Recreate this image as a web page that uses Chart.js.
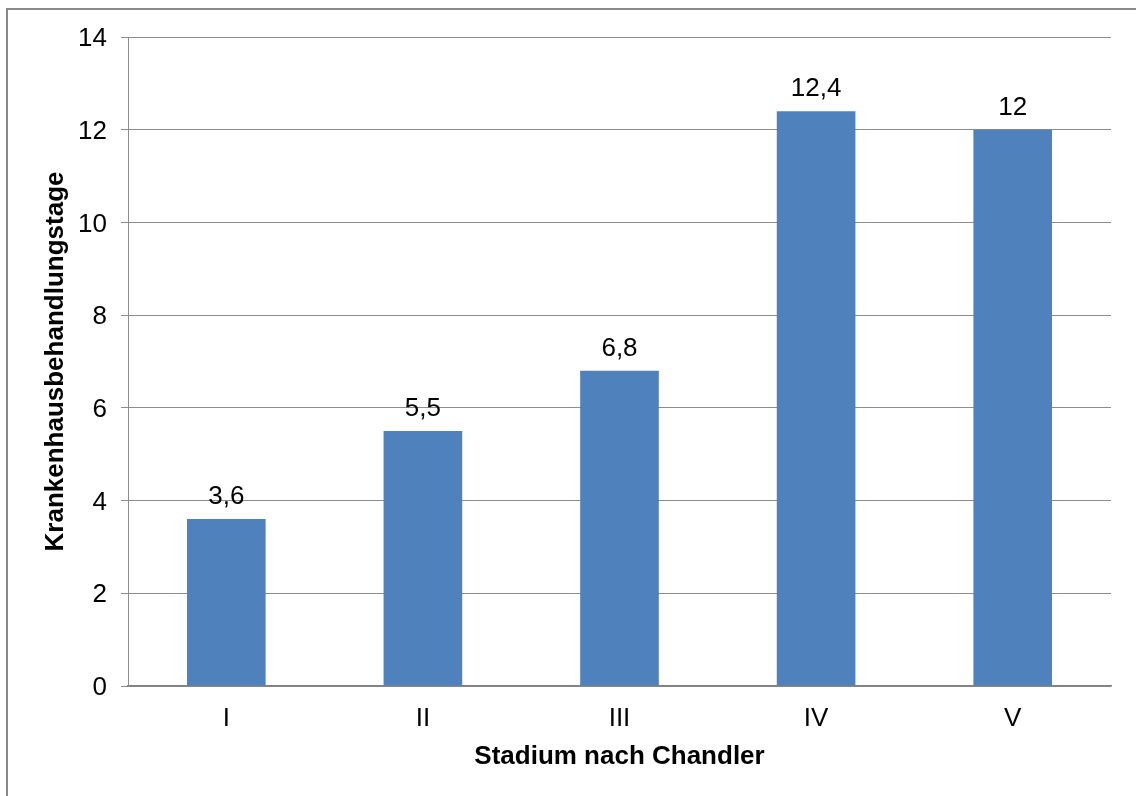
<!DOCTYPE html>
<html>
<head>
<meta charset="utf-8">
<script src="https://cdn.jsdelivr.net/npm/chart.js@4/dist/chart.umd.min.js"></script>
<style>
  html, body { margin: 0; padding: 0; background: #fff; overflow: hidden; }
  #frame {
    position: absolute; left: 6px; top: 8px;
    width: 1200px; height: 900px;
    border: 2px solid #8a8a8a; box-sizing: border-box;
  }
  #wrap { position: absolute; left: 0; top: 0; width: 1136px; height: 796px; }
</style>
</head>
<body>
<div id="frame"></div>
<div id="wrap"><canvas id="chart" width="1136" height="796"></canvas></div>
<script>
// Hospital stay length per Chandler stage
const stages = ['I', 'II', 'III', 'IV', 'V'];
const days = [3.6, 5.5, 6.8, 12.4, 12];
const yTicks = [0, 2, 4, 6, 8, 10, 12, 14];

const FONT = 'Liberation Sans, Arial, sans-serif';
const GRID = '#8c8c8c';

// Writes each bar's value above it, with a decimal comma
const valueLabels = {
  id: 'valueLabels',
  afterDatasetsDraw(chart) {
    const ctx = chart.ctx;
    const meta = chart.getDatasetMeta(0);
    ctx.save();
    ctx.font = '26px ' + FONT;
    ctx.fillStyle = '#000';
    ctx.textAlign = 'center';
    ctx.textBaseline = 'alphabetic';
    meta.data.forEach((bar, i) => {
      const txt = String(days[i]).replace('.', ',');
      ctx.fillText(txt, bar.x, bar.y - 15);
    });
    ctx.restore();
  }
};

new Chart(document.getElementById('chart'), {
  type: 'bar',
  data: {
    labels: stages,
    datasets: [{
      data: days,
      backgroundColor: '#4F81BD',
      borderWidth: 0,
      categoryPercentage: 0.4,
      barPercentage: 1
    }]
  },
  options: {
    responsive: false,
    animation: false,
    layout: { padding: { top: 37, right: 25, left: 0, bottom: 0 } },
    plugins: {
      legend: { display: false },
      tooltip: { enabled: false }
    },
    scales: {
      x: {
        afterFit(scale) { scale.height = 110; },
        grid: { display: false, drawTicks: false },
        border: { display: true, color: '#808080', width: 1.5 },
        ticks: {
          color: '#000',
          font: { family: FONT, size: 26 },
          padding: 17
        },
        title: {
          display: true,
          text: 'Stadium nach Chandler',
          color: '#000',
          font: { family: FONT, size: 26, weight: 'bold' },
          padding: { top: 0, bottom: 24 }
        }
      },
      y: {
        min: 0,
        max: 14,
        afterFit(scale) { scale.width = 128; },
        afterBuildTicks(scale) { scale.ticks = yTicks.map(v => ({ value: v })); },
        grid: { color: GRID, lineWidth: 1, drawTicks: true, tickLength: 7, tickColor: GRID },
        border: { display: true, color: GRID, width: 1 },
        ticks: {
          color: '#000',
          font: { family: FONT, size: 26 },
          padding: 14,
          labelOffset: 2
        },
        title: {
          display: true,
          text: 'Krankenhausbehandlungstage',
          color: '#000',
          font: { family: FONT, size: 26, weight: 'bold' },
          padding: { top: 40, bottom: 0 }
        }
      }
    }
  },
  plugins: [valueLabels]
});
</script>
</body>
</html>
